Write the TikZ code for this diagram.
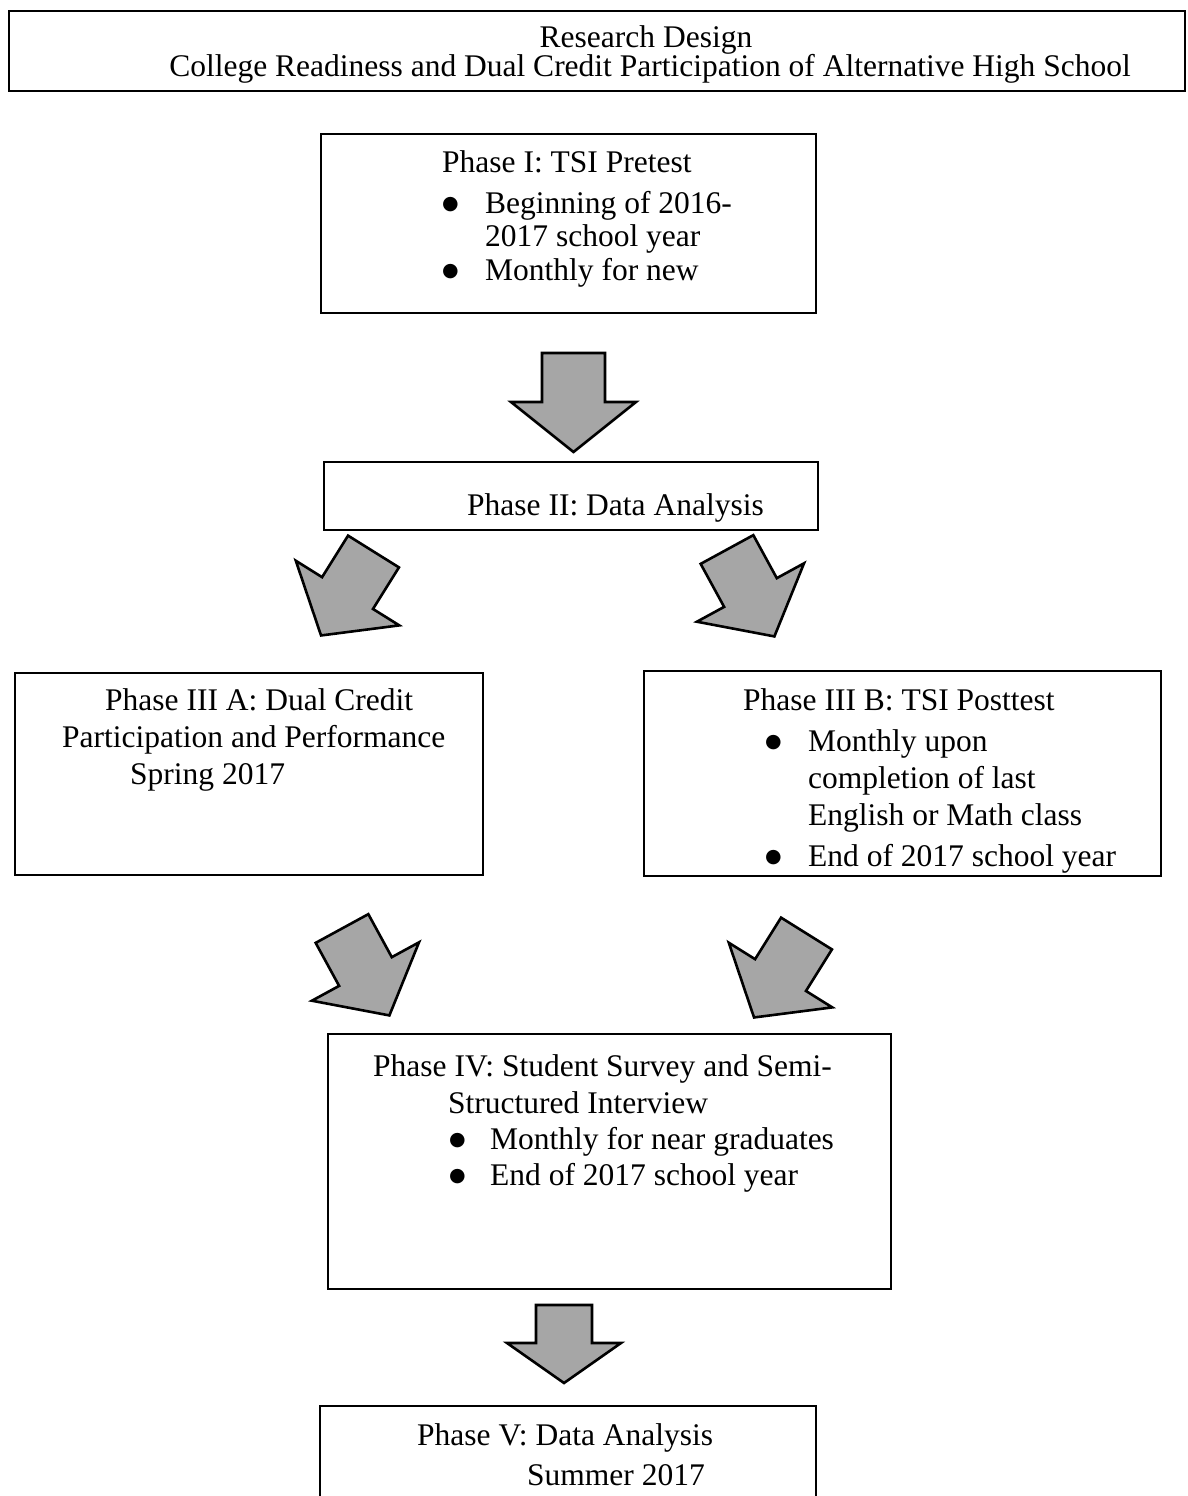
\documentclass[tikz,border=0pt]{standalone}
\usepackage{fontspec}
\setmainfont{Liberation Serif}
\newfontfamily\symfont{DejaVu Sans}
\usepackage{tikz}
\definecolor{arrowgray}{HTML}{A6A6A6}
\newcommand{\bul}{\raisebox{4pt}{\symfont\fontsize{19pt}{19pt}\selectfont ●}}

\tikzset{
  phasebox/.style={draw, line width=1.8pt, anchor=north west, inner sep=0pt},
  txt/.style={anchor=base west, inner sep=0pt, font=\fontsize{31.5pt}{37pt}\selectfont},
  blockfill/.style={draw, fill=arrowgray, line width=2.6pt, line join=miter},
  pics/blockarrow/.style n args={4}{code={
    \draw[blockfill] (-#1,0) -- (-#1,#2) -- (-#3,#2) -- (0,#2+#4) -- (#3,#2) -- (#1,#2) -- (#1,0) -- cycle;
  }}
}

\begin{document}
\begin{tikzpicture}[x=1pt, y=-1pt]
\clip (0,0) rectangle (1187,1496);
\fill[white] (0,0) rectangle (1187,1496);

% title
\node[phasebox, minimum width=1176pt, minimum height=80pt] (title) at (8,10) {};
\node[txt, anchor=base] (title1) at (646,48) {Research Design};
\node[txt, anchor=base] (title2) at (650,77) {College Readiness and Dual Credit Participation of Alternative High School};

% phase I
\node[phasebox, minimum width=495pt, minimum height=179pt] (p1) at (320,133) {};
\node[txt] (p1a) at (442,172) {Phase I: TSI Pretest};
\node[txt] (p1b) at (442,213) {\bul};
\node[txt] (p1c) at (485,213) {Beginning of 2016-};
\node[txt] (p1d) at (485,246) {2017 school year};
\node[txt] (p1e) at (442,280) {\bul};
\node[txt] (p1f) at (485,280) {Monthly for new};

\pic at (573.5,353) {blockarrow={31.5}{49}{62.5}{50}};

% phase II
\node[phasebox, minimum width=494pt, minimum height=68pt] (p2) at (323,461) {};
\node[txt] (p2a) at (467,515) {Phase II: Data Analysis};

\pic[rotate=-32] at (373.5,551.5) {blockarrow={30}{49}{61}{50}};
\pic[rotate=28.6] at (727,549.5) {blockarrow={30}{49}{61}{50}};

% phase III A
\node[phasebox, minimum width=468pt, minimum height=202pt] (p3a) at (14,672) {};
\node[txt] (p3aa) at (105,710) {Phase III A: Dual Credit};
\node[txt] (p3ab) at (62,747) {Participation and Performance};
\node[txt] (p3ac) at (130,784) {Spring 2017};

% phase III B
\node[phasebox, minimum width=517pt, minimum height=205pt] (p3b) at (643,670) {};
\node[txt] (p3ba) at (743,710) {Phase III B: TSI Posttest};
\node[txt] (p3bb) at (765,751) {\bul};
\node[txt] (p3bc) at (808,751) {Monthly upon};
\node[txt] (p3bd) at (808,788) {completion of last};
\node[txt] (p3be) at (808,825) {English or Math class};
\node[txt] (p3bf) at (765,866) {\bul};
\node[txt] (p3bg) at (808,866) {End of 2017 school year};

\pic[rotate=28.6] at (342,928.5) {blockarrow={30}{49}{61}{50}};
\pic[rotate=-32] at (806.5,933.5) {blockarrow={30}{49}{61}{50}};

% phase IV
\node[phasebox, minimum width=563pt, minimum height=255pt] (p4) at (327,1033) {};
\node[txt] (p4a) at (373,1076) {Phase IV: Student Survey and Semi-};
\node[txt] (p4b) at (448,1113) {Structured Interview};
\node[txt] (p4c) at (449,1149) {\bul};
\node[txt] (p4d) at (490,1149) {Monthly for near graduates};
\node[txt] (p4e) at (449,1185) {\bul};
\node[txt] (p4f) at (490,1185) {End of 2017 school year};

\pic at (564,1305) {blockarrow={28}{38}{57}{40}};

% phase V
\node[phasebox, minimum width=496pt, minimum height=120pt] (p5) at (319,1405) {};
\node[txt] (p5a) at (417,1445) {Phase V: Data Analysis};
\node[txt] (p5b) at (527,1485) {Summer 2017};
\end{tikzpicture}
\end{document}
